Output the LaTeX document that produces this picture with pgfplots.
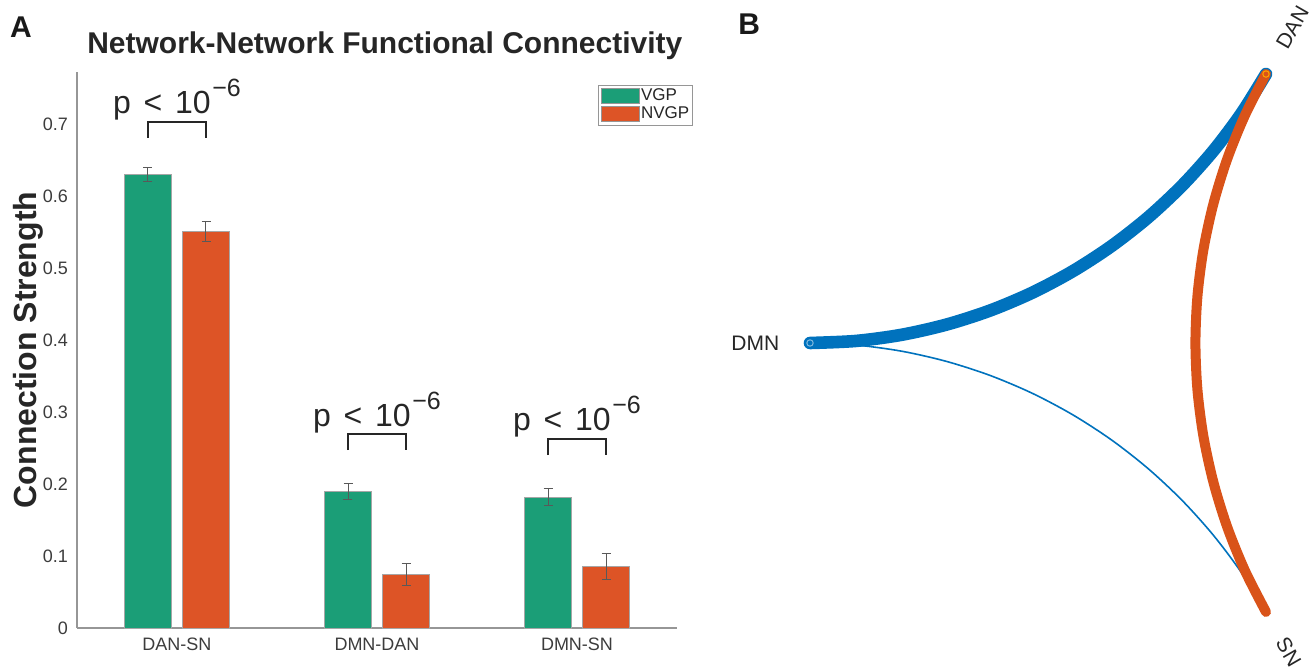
\documentclass[border=0pt]{standalone}
\usepackage{pgfplots}
\pgfplotsset{compat=1.18}
\usepackage{pgfplotstable}
\usepackage{fontspec}
\setmainfont{Liberation Sans}
\definecolor{vgp}{RGB}{27,158,119}
\definecolor{nvgp}{RGB}{221,84,38}
\definecolor{mblue}{RGB}{0,114,189}
\definecolor{morange}{RGB}{217,83,25}
\definecolor{axgray}{RGB}{150,150,150}
\definecolor{txtgray}{RGB}{60,60,60}
\newcommand{\pval}{p\hspace{0.4em}<\hspace{0.4em}10\hspace{0.05em}\raisebox{8.5pt}{\fontsize{12.5}{13}\selectfont −6}}

\pgfplotstableread{
x y e
1 0.630 0.0097
2 0.189 0.011
3 0.1815 0.012
}\vgpdata
\pgfplotstableread{
x y e
1 0.551 0.014
2 0.0745 0.015
3 0.085 0.018
}\nvgpdata

\begin{document}
\begin{tikzpicture}
\path[use as bounding box] (0,0) rectangle (657pt,334.5pt);
\begin{axis}[
  at={(38.5pt,20.5pt)}, anchor=south west,
  scale only axis, width=300pt, height=278pt,
  xmin=0.5, xmax=3.5, ymin=0, ymax=0.772,
  clip=false,
  axis x line*=bottom, axis y line*=left,
  axis line style={draw=axgray, line width=0.6pt, -},
  xtick={1,2,3}, xticklabels={DAN-SN,DMN-DAN,DMN-SN},
  ytick={0,0.1,0.2,0.3,0.4,0.5,0.6,0.7},
  yticklabels={0,0.1,0.2,0.3,0.4,0.5,0.6,0.7},
  major tick length=0pt,
  tick label style={font=\fontsize{9}{10}\selectfont, text=txtgray},
  yticklabel style={xshift=-1pt},
  xticklabel style={yshift=-1.5pt},
  /pgf/number format/assume math mode=true,
  ybar=5.5pt, bar width=23.5pt,
  ylabel={Connection Strength},
  ylabel style={font=\bfseries\fontsize{16}{18}\selectfont, at={(rel axis cs:-0.082,0.5)}, anchor=center, text=black!85},
  legend style={at={(rel axis cs:1.027,0.977)}, anchor=north east, draw=axgray,
    font=\fontsize{8.5}{9.5}\selectfont, inner xsep=1pt, inner ysep=1pt,
    nodes={inner sep=0.8pt}, text=black!85},
  legend cell align=left,
  legend image code/.code={\draw[#1, draw=axgray] (0pt,-3.75pt) rectangle (19pt,3.75pt);},
  myerr/.style={error bars/.cd, y dir=both, y explicit,
    error bar style={draw=black!65, line width=0.5pt},
    error mark options={draw=black!65, line width=0.5pt, mark size=2.25pt, rotate=90}},
]
\addplot[fill=vgp, draw=gray!70, line width=0.4pt, myerr] table[x=x, y=y, y error=e] {\vgpdata};
\addplot[fill=nvgp, draw=gray!70, line width=0.4pt, myerr] table[x=x, y=y, y error=e] {\nvgpdata};
\legend{VGP,NVGP}

\draw[black!85, line width=0.9pt] (axis cs:0.855,0.681) -- (axis cs:0.855,0.703) -- (axis cs:1.145,0.703) -- (axis cs:1.145,0.681);
\draw[black!85, line width=0.9pt] (axis cs:1.855,0.247) -- (axis cs:1.855,0.269) -- (axis cs:2.145,0.269) -- (axis cs:2.145,0.247);
\draw[black!85, line width=0.9pt] (axis cs:2.855,0.240) -- (axis cs:2.855,0.2625) -- (axis cs:3.145,0.2625) -- (axis cs:3.145,0.240);
\node[anchor=base, font=\fontsize{16}{18}\selectfont, text=black!85, inner sep=0pt] at (axis cs:1,0.714) {\pval};
\node[anchor=base, font=\fontsize{16}{18}\selectfont, text=black!85, inner sep=0pt] at (axis cs:2,0.280) {\pval};
\node[anchor=base, font=\fontsize{16}{18}\selectfont, text=black!85, inner sep=0pt] at (axis cs:3,0.274) {\pval};
\node[font=\bfseries\fontsize{15}{18}\selectfont, text=black!90] at (rel axis cs:-0.0933,1.081) {A};
\node[anchor=base, inner sep=0pt, font=\bfseries\fontsize{15}{18}\selectfont, text=black!85] at (rel axis cs:0.513,1.034) {Network-Network Functional Connectivity};
\end{axis}

\begin{axis}[
  at={(557pt,163pt)}, anchor=center,
  scale only axis, width=304pt, height=310.6pt,
  xmin=-1, xmax=1, ymin=-1, ymax=1,
  hide axis, clip=false,
]
\addplot[mblue, line width=0.8pt, smooth, mark=none] coordinates {
(-1,0) (-0.8490,-0.0066) (-0.6992,-0.0263) (-0.5517,-0.0591) (-0.4076,-0.1045) (-0.2680,-0.1623) (-0.1340,-0.2321) (-0.0065,-0.3133) (0.1133,-0.4053) (0.2247,-0.5074) (0.3268,-0.6188) (0.4188,-0.7386) (0.5,-0.8660)
};
\addplot[mblue, line width=6.3pt, smooth, mark=none, line cap=round] coordinates {
(-1,0) (-0.8490,0.0066) (-0.6992,0.0263) (-0.5517,0.0591) (-0.4076,0.1045) (-0.2680,0.1623) (-0.1340,0.2321) (-0.0065,0.3133) (0.1133,0.4053) (0.2247,0.5074) (0.3268,0.6188) (0.4188,0.7386) (0.5,0.8660)
};
\addplot[morange, line width=5pt, smooth, mark=none, line cap=round] coordinates {
(0.5,0.8660) (0.4302,0.7320) (0.3724,0.5924) (0.3270,0.4483) (0.2942,0.3008) (0.2745,0.1510) (0.2679,0) (0.2745,-0.1510) (0.2942,-0.3008) (0.3270,-0.4483) (0.3724,-0.5924) (0.4302,-0.7320) (0.5,-0.8660)
};
\addplot[only marks, mark=o, mark size=1.6pt, mblue!50, line width=0.5pt] coordinates {(-1,0)};
\addplot[only marks, mark=o, mark size=1.6pt, orange!70!yellow, line width=0.5pt] coordinates {(0.5,0.8660)};
\node[anchor=east, inner sep=0pt, font=\fontsize{10.5}{12}\selectfont, text=black!85] at (axis cs:-1.1,0) {DMN};
\node[anchor=west, inner sep=0pt, rotate=60, font=\fontsize{10.5}{12}\selectfont, text=black!85] at (axis cs:0.55,0.953) {DAN};
\node[anchor=west, inner sep=0pt, rotate=-60, font=\fontsize{10.5}{12}\selectfont, text=black!85] at (axis cs:0.55,-0.953) {SN};
\node[font=\bfseries\fontsize{15}{18}\selectfont, text=black!90] at (axis cs:-1.2,1.027) {B};
\end{axis}
\end{tikzpicture}
\end{document}
